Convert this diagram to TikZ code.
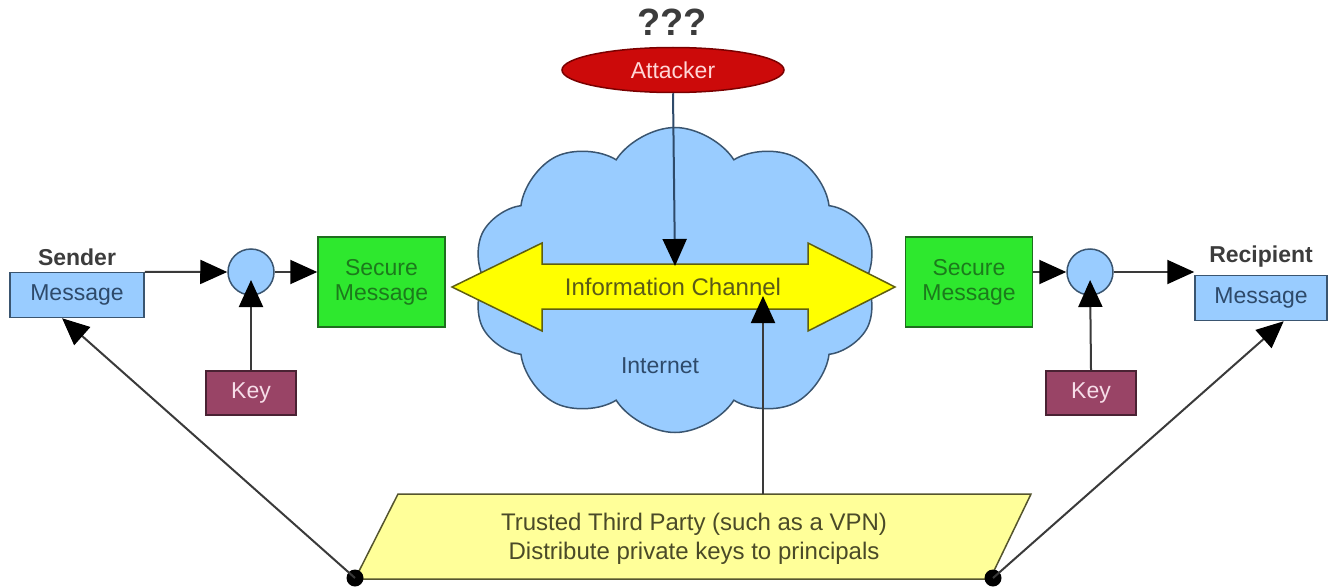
\documentclass[tikz,border=0pt]{standalone}
\usepackage{fontspec}
\setmainfont{Liberation Sans}
\usetikzlibrary{arrows.meta,shapes.geometric,shapes.symbols,calc}

\definecolor{msgfill}{HTML}{99CCFF}
\definecolor{msgline}{HTML}{3A5570}
\definecolor{msgtext}{HTML}{2E4A6A}
\definecolor{secfill}{HTML}{2EE82E}
\definecolor{secline}{HTML}{1E6E1E}
\definecolor{sectext}{HTML}{1C7A1C}
\definecolor{keyfill}{HTML}{994466}
\definecolor{keyline}{HTML}{4A2233}
\definecolor{keytext}{HTML}{F6DDE8}
\definecolor{attfill}{HTML}{CC0A0A}
\definecolor{attline}{HTML}{7A0000}
\definecolor{atttext}{HTML}{FFD6D6}
\definecolor{chanfill}{HTML}{FFFF00}
\definecolor{chanline}{HTML}{5E5E10}
\definecolor{chantext}{HTML}{5A5A18}
\definecolor{ttpfill}{HTML}{FFFF99}
\definecolor{ttpline}{HTML}{55552E}
\definecolor{ttptext}{HTML}{4A4A28}
\definecolor{conn}{HTML}{3A3A3A}
\definecolor{labeltext}{HTML}{3C3C3C}

\tikzset{
  txt/.style={font=\fontsize{23}{25}\selectfont},
  msgbox/.style={draw=msgline, fill=msgfill, line width=1.5pt, txt,
    text=msgtext, minimum width=134, minimum height=45, inner sep=0pt},
  secbox/.style={draw=secline, fill=secfill, line width=1.5pt, txt,
    text=sectext, minimum width=127, minimum height=90, align=center, inner sep=0pt},
  keybox/.style={draw=keyline, fill=keyfill, line width=1.5pt, txt,
    text=keytext, minimum width=90, minimum height=44, inner sep=0pt},
  mixer/.style={circle, draw=msgline, fill=msgfill, line width=1.5pt,
    minimum size=46, inner sep=0pt},
  rolelabel/.style={font=\bfseries\fontsize{23}{25}\selectfont, text=labeltext},
  link/.style={draw=conn, line width=2pt,
    -{Triangle[length=27pt,width=24pt,color=black]}},
  dotend/.style={circle, fill=black, minimum size=17, inner sep=0pt},
}

\begin{document}
\begin{tikzpicture}[x=1pt, y=-1pt]
\useasboundingbox (0,0) rectangle (1329,586);

% the internet cloud
\node[cloud, cloud puffs=10, cloud puff arc=115, aspect=1.3,
      draw=msgline, fill=msgfill, line width=1.5pt,
      minimum width=405, minimum height=305] (net) at (675,280) {};
\node[txt, text=msgtext] (inet) at (660,366) {Internet};

% two-headed information channel
\draw[draw=chanline, fill=chanfill, line width=1.5pt]
  (452,287) -- (542,243) -- (542,264) -- (808,264) -- (808,243) -- (895,287)
  -- (808,331) -- (808,309) -- (542,309) -- (542,331) -- cycle;
\node[font=\fontsize{24}{26}\selectfont, text=chantext] (chan) at (673,287) {Information Channel};
\coordinate (chantop) at (675,266);
\coordinate (chanbot) at (763,296);

% attacker
\node[font=\bfseries\fontsize{38}{40}\selectfont, text=labeltext] (qq) at (672,22) {???};
\node[ellipse, draw=attline, fill=attfill, line width=1.5pt, txt, text=atttext,
      minimum width=222, minimum height=45, inner sep=0pt] (att) at (673,70) {Attacker};

% sender side
\node[rolelabel] (sender) at (77,257) {Sender};
\node[msgbox] (msgL) at (77,295) {Message};
\node[mixer] (mixL) at (251,272) {};
\node[secbox] (secL) at (381.5,282) {Secure\\Message};
\node[keybox] (keyL) at (251,393) {Key};

% recipient side
\node[rolelabel] (recip) at (1261,257) {Recipient};
\node[msgbox, minimum width=132] (msgR) at (1261,298) {Message};
\node[mixer] (mixR) at (1090,272) {};
\node[secbox] (secR) at (969,282) {Secure\\Message};
\node[keybox] (keyR) at (1091,393) {Key};

% trusted third party
\draw[draw=ttpline, fill=ttpfill, line width=1.5pt]
  (355,579) -- (398,494) -- (1031,494) -- (990,579) -- cycle;
\node[font=\fontsize{24}{29}\selectfont, text=ttptext, align=center] (ttp) at (694,539)
  {Trusted Third Party (such as a VPN)\\Distribute private keys to principals};
\coordinate (ttptop) at (763,494);
\node[dotend] (dotL) at (355,578) {};
\node[dotend] (dotR) at (993,578) {};

% connectors
\draw[link] (msgL.north east) -- (mixL.west);
\draw[link] (mixL.east) -- (mixL.east -| secL.west);
\draw[link, shorten >=8pt] (keyL.north) -- (mixL.center);
\draw[link] (secR.east |- mixR.west) -- (mixR.west);
\draw[link, shorten >=8pt] (keyR.north) -- (mixR.center);
\draw[link] (mixR.east) -- (mixR.east -| msgR.west);
\draw[link, draw=msgtext] (att.south) -- (chantop);
\draw[link] (ttptop) -- (chanbot);
\draw[link] (dotL.center) -- ($(msgL.south west)!0.39!(msgL.south east)$);
\draw[link] (dotR.center) -- ($(msgR.south west)!0.67!(msgR.south east)$);
\end{tikzpicture}
\end{document}
